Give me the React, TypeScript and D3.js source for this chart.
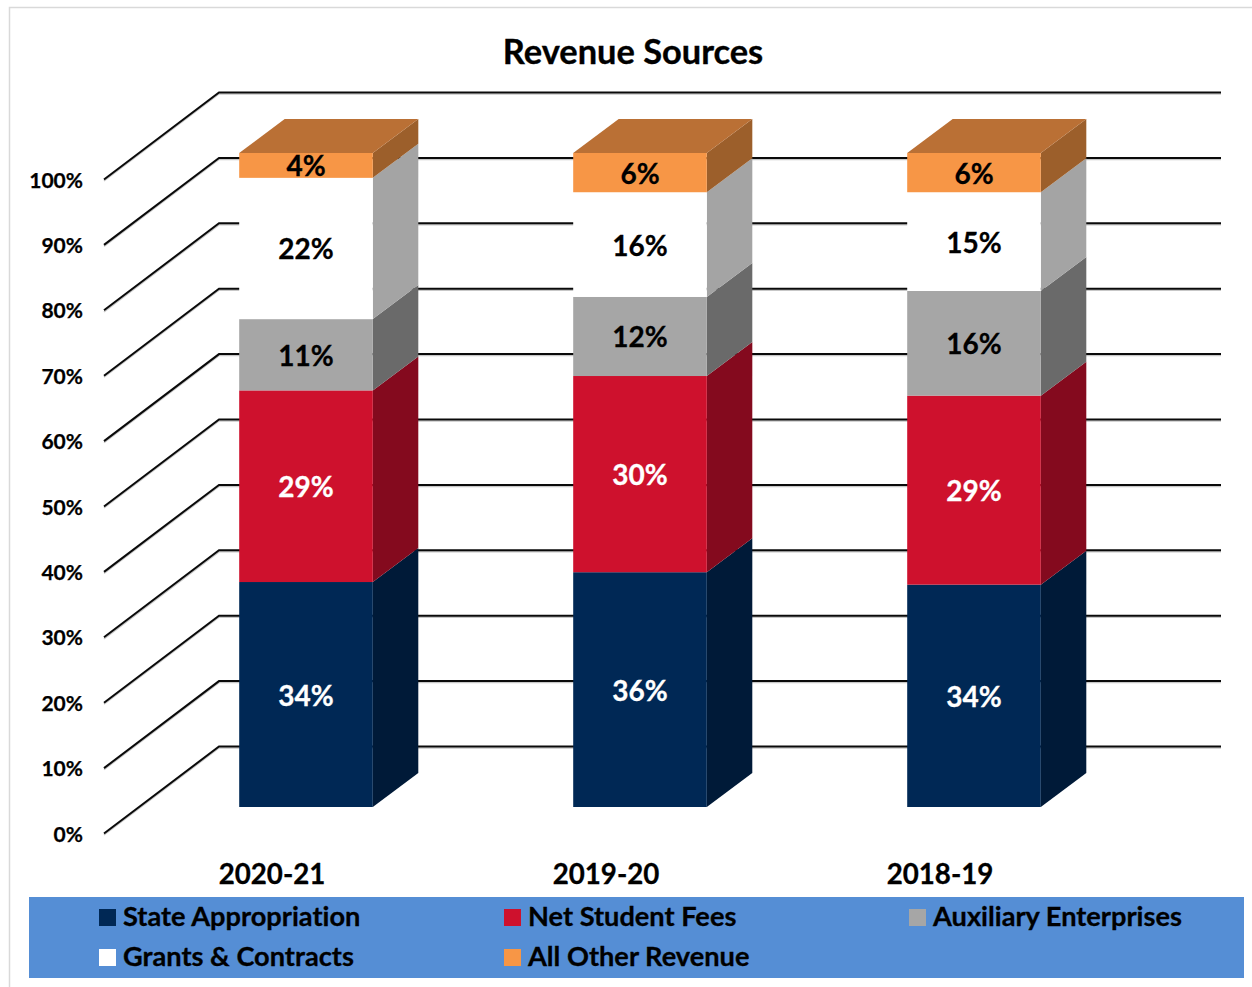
import React from "react";
import * as d3 from "d3";

const categories = ["2020-21", "2019-20", "2018-19"];
const seriesNames = ["State Appropriation", "Net Student Fees", "Auxiliary Enterprises", "Grants & Contracts", "All Other Revenue"];
const stateAppropriation = [34.4, 35.9, 34.0];
const netStudentFees = [29.3, 30.0, 28.9];
const auxiliaryEnterprises = [10.9, 12.1, 16.0];
const grantsContracts = [21.6, 16.0, 15.1];
const allOtherRevenue = [3.8, 6.0, 6.0];
const yTicks = [0, 10, 20, 30, 40, 50, 60, 70, 80, 90, 100];

const frontColors = ["#002855", "#CE112D", "#A6A6A6", "#FFFFFF", "#F79646"];
const sideColors = ["#001A38", "#840A1E", "#6A6A6A", "#A4A4A4", "#9C5F2B"];
const labelColors = ["#FFFFFF", "#FFFFFF", "#000000", "#000000", "#000000"];
const topColor = "#BA7035";
const FONT = "Lato, Carlito, sans-serif";

export default function App() {
  const seriesValues = [stateAppropriation, netStudentFees, auxiliaryEnterprises, grantsContracts, allOtherRevenue];
  const rows = categories.map((c, i) => {
    const r: Record<string, number | string> = { category: c };
    seriesNames.forEach((s, j) => (r[s] = seriesValues[j][i]));
    return r;
  });
  const stacked = d3.stack<any>().keys(seriesNames)(rows);

  const x = d3.scaleBand<string>().domain(categories).range([104, 1106]).paddingInner(0.6).paddingOuter(0.3);
  const y = d3.scaleLinear().domain([0, 100]).range([833.5, 179.5]);
  const wallDx = 115, wallDy = 87;
  const barDx = 35, barDy = 26.5;
  const depthX = 45.5, depthY = 34;
  const gridEnd = 1221;
  const line = d3.line<[number, number]>();
  const poly = (pts: [number, number][]) => line(pts) + "Z";

  return (
    <svg width={1252} height={987} style={{ position: "absolute", left: 0, top: 0, background: "#fff", fontVariantLigatures: "none" }} fontFamily={FONT} fontWeight={700}>
      <path d="M9.5 987V7.5H1252" fill="none" stroke="#D9D9D9" strokeWidth={1.5} />
      <text x={633} y={63.5} textAnchor="middle" fontSize={34.4} fill="#000" stroke="#000" strokeWidth={0.35}>Revenue Sources</text>

      {yTicks.map((t) => {
        const pts: [number, number][] = [[104, y(t)], [104 + wallDx, y(t) - wallDy], [gridEnd, y(t) - wallDy]];
        return (
          <g key={t}>
            <path d={line(pts.map(([a, b]) => [a, b + 1.5] as [number, number]))!} fill="none" stroke="#000" strokeOpacity={0.22} strokeWidth={1.5} />
            <path d={line(pts)!} fill="none" stroke="#0A0A0A" strokeWidth={2} />
            <text x={83} y={y(t) + 8} textAnchor="end" fontSize={21} fill="#000" stroke="#000" strokeWidth={0.25}>{t}%</text>
          </g>
        );
      })}

      {stacked.map((layer, si) =>
        layer.map((d, ci) => {
          const cat = categories[ci];
          const x0 = x(cat)! + barDx;
          const x1 = x0 + x.bandwidth();
          const yb = y(d[0]) - barDy;
          const yt = y(d[1]) - barDy;
          return (
            <g key={`${si}-${ci}`}>
              <path d={poly([[x1, yt], [x1 + depthX, yt - depthY], [x1 + depthX, yb - depthY], [x1, yb]])} fill={sideColors[si]} />
              <rect x={x0} y={yt} width={x1 - x0} height={yb - yt} fill={frontColors[si]} />
              {si === seriesNames.length - 1 && (
                <path d={poly([[x0, yt], [x0 + depthX, yt - depthY], [x1 + depthX, yt - depthY], [x1, yt]])} fill={topColor} />
              )}
            </g>
          );
        })
      )}

      {stacked.map((layer, si) =>
        layer.map((d, ci) => {
          const cat = categories[ci];
          const cx = x(cat)! + barDx + x.bandwidth() / 2;
          const cy = (y(d[0]) + y(d[1])) / 2 - barDy;
          return (
            <text key={`l${si}-${ci}`} x={cx} y={cy + 11} textAnchor="middle" fontSize={28} fill={labelColors[si]} stroke={labelColors[si]} strokeWidth={0.3}>
              {d3.format(".0f")(d[1] - d[0])}%
            </text>
          );
        })
      )}

      {categories.map((c) => (
        <text key={c} x={x(c)! + x.bandwidth() / 2 + 1} y={884} textAnchor="middle" fontSize={27.7} fill="#000" stroke="#000" strokeWidth={0.3}>{c}</text>
      ))}

      <rect x={29} y={897} width={1215} height={81} fill="#558ED5" />
      {seriesNames.map((s, i) => {
        const lx = [99, 504, 909][i % 3];
        const ly = i < 3 ? 909 : 949;
        return (
          <g key={s}>
            <rect x={lx} y={ly} width={17} height={17} fill={frontColors[i]} />
            <text x={lx + 24} y={ly + 16.5} fontSize={27.2} fill="#000" stroke="#000" strokeWidth={0.3}>{s}</text>
          </g>
        );
      })}
    </svg>
  );
}
